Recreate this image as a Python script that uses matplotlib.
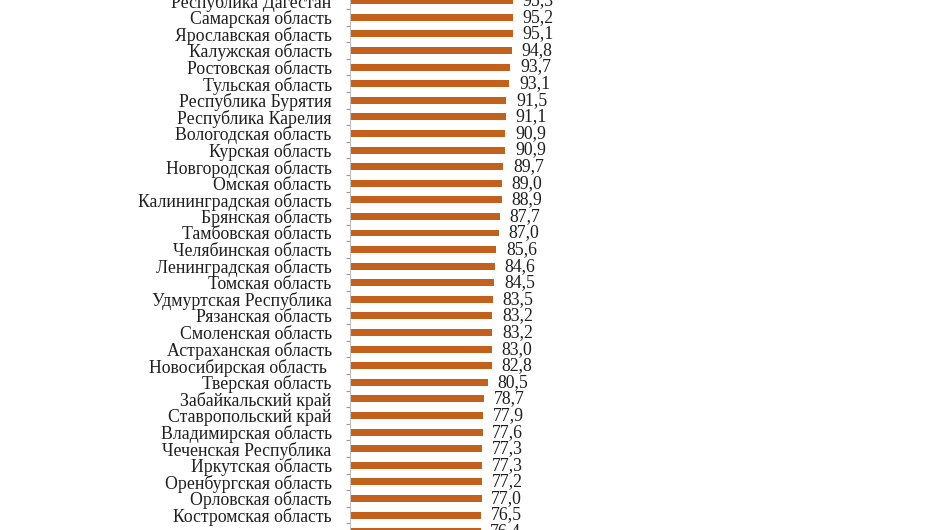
import matplotlib
matplotlib.use("Agg")
import matplotlib.pyplot as plt
import numpy as np

regions = [
    "Республика Дагестан", "Самарская область", "Ярославская область",
    "Калужская область", "Ростовская область", "Тульская область",
    "Республика Бурятия", "Республика Карелия", "Вологодская область",
    "Курская область", "Новгородская область", "Омская область",
    "Калининградская область", "Брянская область", "Тамбовская область",
    "Челябинская область", "Ленинградская область", "Томская область",
    "Удмуртская Республика", "Рязанская область", "Смоленская область",
    "Астраханская область", "Новосибирская область ", "Тверская область",
    "Забайкальский край", "Ставропольский край", "Владимирская область",
    "Чеченская Республика", "Иркутская область", "Оренбургская область",
    "Орловская область", "Костромская область", "Ульяновская область",
]
values = [
    95.3, 95.2, 95.1, 94.8, 93.7, 93.1, 91.5, 91.1, 90.9, 90.9, 89.7,
    89.0, 88.9, 87.7, 87.0, 85.6, 84.6, 84.5, 83.5, 83.2, 83.2, 83.0,
    82.8, 80.5, 78.7, 77.9, 77.6, 77.3, 77.3, 77.2, 77.0, 76.5, 76.4,
]

plt.rcParams["font.family"] = ["Liberation Serif", "DejaVu Serif"]
text_color = "#1f1f1f"

fig = plt.figure(figsize=(9.36, 5.30), dpi=100)
ax = fig.add_axes([349.5 / 936, 0, 171.5 / 936, 1])

y = np.arange(len(regions))
ax.barh(y, values, height=0.42, color="#C2601C")

for yi, v in zip(y, values):
    ax.annotate(f"{v:.1f}".replace(".", ","), (v, yi), xytext=(7, 0),
                textcoords="offset points", va="center", ha="left",
                fontsize=12.8, color=text_color, annotation_clip=False)

ax.set_yticks(y)
ax.set_yticklabels(regions, fontsize=12.8, color=text_color)
ax.set_yticks(np.arange(-0.5, len(regions), 1), minor=True)
ax.tick_params(axis="y", which="major", length=0, pad=12.8)
ax.tick_params(axis="y", which="minor", length=3, width=0.8, color="#999999")
ax.set_xticks([])

# limits last, set_yticks would widen them otherwise
ax.set_xlim(0, 100)
ax.set_ylim(31.9, -0.042)

for side in ["top", "right", "bottom"]:
    ax.spines[side].set_visible(False)
ax.spines["left"].set_color("#bfbfbf")
ax.spines["left"].set_linewidth(0.8)
ax.patch.set_visible(False)

fig.savefig("out.png", dpi=100)
